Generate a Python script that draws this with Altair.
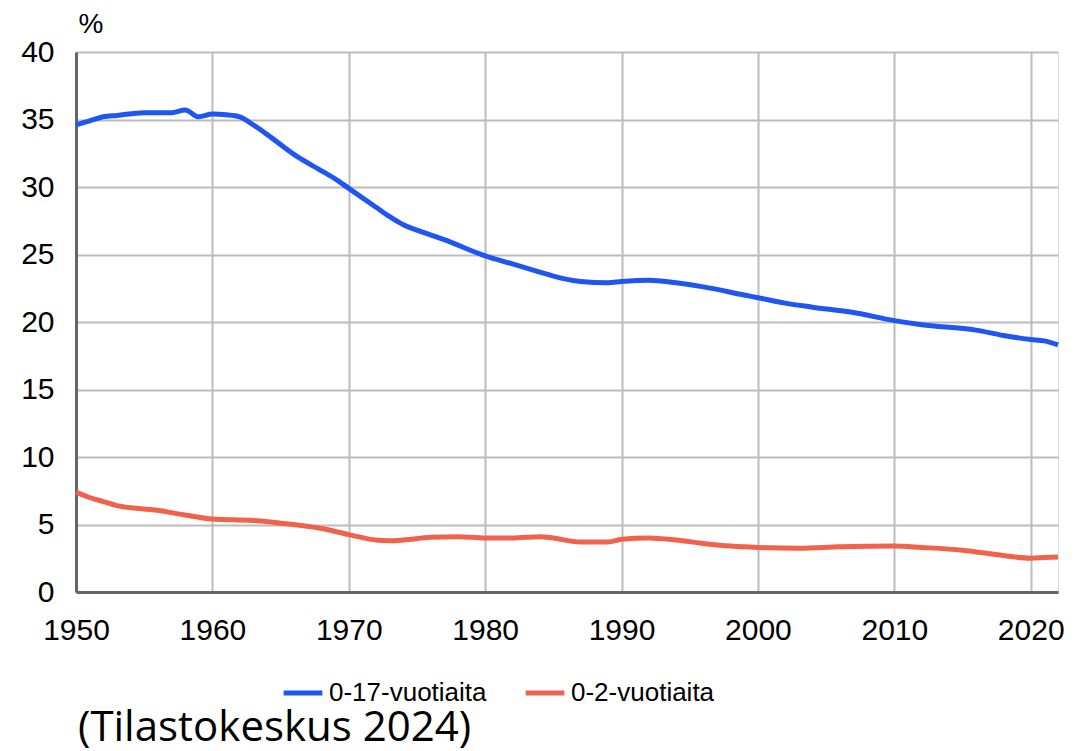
import altair as alt
import pandas as pd

# 0-17-vuotiaiden osuus väestöstä (%)
years_017 = [1950, 1951, 1952, 1953, 1955, 1957, 1958, 1959, 1960, 1961, 1962, 1963, 1964,
             1966, 1968, 1969, 1970, 1972, 1973, 1974, 1975, 1977, 1980, 1982, 1984, 1985,
             1987, 1989, 1990, 1992, 1994, 1996, 1999, 2000, 2002, 2004, 2007, 2010, 2012,
             2016, 2018, 2020, 2021, 2022]
vals_017 = [34.6, 34.9, 35.2, 35.3, 35.5, 35.5, 35.7, 35.2, 35.4, 35.35, 35.2, 34.6, 33.9,
            32.4, 31.2, 30.6, 29.9, 28.5, 27.8, 27.2, 26.8, 26.1, 24.9, 24.3, 23.7, 23.4,
            23.0, 22.9, 23.0, 23.1, 22.9, 22.6, 22.0, 21.8, 21.4, 21.1, 20.7, 20.1, 19.8,
            19.4, 19.0, 18.7, 18.6, 18.3]

# 0-2-vuotiaiden osuus väestöstä (%)
years_02 = [1950, 1951, 1952, 1953, 1956, 1958, 1960, 1963, 1965, 1968, 1970, 1972, 1973,
            1974, 1976, 1978, 1980, 1982, 1984, 1985, 1987, 1989, 1990, 1992, 1994, 1996,
            1998, 2000, 2003, 2006, 2010, 2012, 2015, 2018, 2020, 2021, 2022]
vals_02 = [7.4, 7.0, 6.7, 6.4, 6.05, 5.7, 5.4, 5.3, 5.1, 4.7, 4.25, 3.85, 3.8,
           3.85, 4.05, 4.1, 4.0, 4.0, 4.1, 4.0, 3.7, 3.7, 3.9, 4.0, 3.85, 3.6,
           3.4, 3.3, 3.25, 3.35, 3.4, 3.3, 3.1, 2.7, 2.5, 2.55, 2.6]

series = ["0-17-vuotiaita", "0-2-vuotiaita"]
colors = ["#1f55f0", "#f0624c"]
x_ticks = [1950, 1960, 1970, 1980, 1990, 2000, 2010, 2020]
y_ticks = [0, 5, 10, 15, 20, 25, 30, 35, 40]
source = "(Tilastokeskus 2024)"

df = pd.concat([
    pd.DataFrame({"vuosi": years_017, "osuus": vals_017, "ryhma": series[0]}),
    pd.DataFrame({"vuosi": years_02, "osuus": vals_02, "ryhma": series[1]}),
])

FONT = "Liberation Sans"

lines = alt.Chart(df).mark_line(strokeWidth=5, interpolate="monotone").encode(
    x=alt.X("vuosi:Q",
            scale=alt.Scale(domain=[1950, 2022], nice=False, zero=False),
            axis=alt.Axis(values=x_ticks, format="d", title=None, tickSize=0,
                          labelPadding=23, labelFontSize=30, labelFont=FONT,
                          labelColor="#000000", domainColor="#666666", domainWidth=3,
                          gridColor="#bcbcbc", gridWidth=2, labelFlush=False)),
    y=alt.Y("osuus:Q",
            scale=alt.Scale(domain=[0, 40], nice=False),
            axis=alt.Axis(values=y_ticks, title="%", titleAngle=0, titleAlign="left",
                          titleBaseline="alphabetic", titleX=2, titleY=-20,
                          titleFont=FONT, titleFontSize=28, titleFontWeight="normal",
                          titleColor="#000000",
                          tickSize=0, labelPadding=22, labelFontSize=30, labelFont=FONT,
                          labelColor="#000000", domainColor="#666666", domainWidth=3,
                          gridColor="#bcbcbc", gridWidth=2)),
    color=alt.Color("ryhma:N",
                    scale=alt.Scale(domain=series, range=colors),
                    sort=series,
                    legend=alt.Legend(orient="none", legendX=205, legendY=619,
                                      direction="horizontal", title=None,
                                      symbolType="stroke", symbolSize=1500,
                                      symbolStrokeWidth=5, labelFont=FONT,
                                      labelFontSize=26, labelColor="#000000",
                                      labelLimit=400,
                                      labelOffset=4, columnPadding=28)),
)

src = alt.Chart(pd.DataFrame({"t": [source]})).mark_text(
    align="left", baseline="alphabetic", font="Open Sans", fontSize=42, color="#000000"
).encode(x=alt.value(2), y=alt.value(689), text="t:N")

chart = alt.layer(lines, src).properties(
    width=982, height=540,
    autosize=alt.AutoSizeParams(type="none"),
    padding={"left": 68, "top": 44, "right": 25, "bottom": 158},
).configure_view(stroke=None).configure(background="white")

chart.save("out.html", embed_options={"renderer": "svg", "actions": False})
